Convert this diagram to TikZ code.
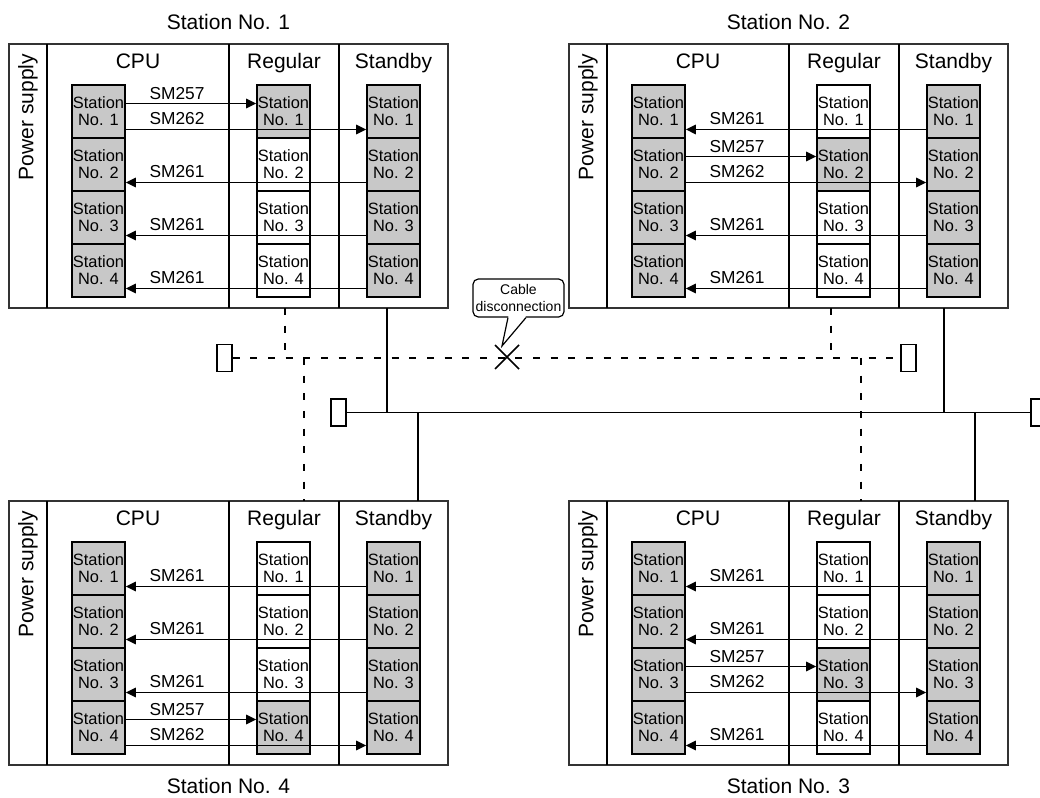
\documentclass[tikz,border=0pt]{standalone}
\usepackage{fontspec}
\setmainfont{Liberation Sans}
\usetikzlibrary{arrows.meta,calc}
\definecolor{boxgray}{RGB}{200,200,200}
\tikzset{
  modframe/.style={draw=black!80, line width=1.1pt, minimum width=329.25pt, minimum height=198pt, inner sep=0pt},
  divider/.style={line width=1.6pt},
  stbox/.style={draw, line width=1.3pt, minimum width=39.75pt, minimum height=39.75pt, inner sep=0pt, align=center, font=\fontsize{12.3}{12.75}\selectfont},
  sig/.style={line width=1.4pt, -{Triangle[length=7.5pt,width=7pt]}},
  smlabel/.style={inner sep=0pt, font=\fontsize{13}{13}\selectfont},
  header/.style={inner sep=0pt, anchor=base, font=\fontsize{15.75}{16}\selectfont},
  pslabel/.style={inner sep=0pt, rotate=90, font=\fontsize{15.75}{16}\selectfont},
  bus/.style={line width=1.3pt},
  dashbus/.style={line width=1.3pt, dash pattern=on 5.25pt off 8pt},
  term/.style={draw, fill=white, line width=1.1pt, minimum width=11.25pt, minimum height=20.25pt, inner sep=0pt},
  xmark/.style={line width=1.2pt},
  callbox/.style={draw, fill=white, line width=0.9pt, rounded corners=4pt, align=center, inner sep=0pt, minimum width=68.25pt, minimum height=28.5pt, font=\fontsize{10.5}{12.75}\selectfont},
}
\newcommand{\stmodule}[4]{%
\begin{scope}[shift={(#1,#2)}]
  \node[modframe] (#3frame) at (228.5,176) {};
  \draw[divider] (47,44) -- (47,308);
  \draw[divider] (229,44) -- (229,308);
  \draw[divider] (339,44) -- (339,308);
  \node[pslabel] (#3ps) at (28,117) {Power supply};
  \node[header] (#3hcpu) at (138,68.5) {CPU};
  \node[header] (#3hreg) at (284,68.5) {Regular};
  \node[header] (#3hstb) at (393.5,68.5) {Standby};
  \foreach \r in {1,2,3,4} {
    \pgfmathsetmacro{\cy}{85+53*(\r-1)+26.5}
    \ifnum\r=#4\relax\def\regcol{boxgray}\else\def\regcol{white}\fi
    \node[stbox, fill=boxgray] (#3cpu\r) at (98.5,\cy) {Station\\No. \r};
    \node[stbox, fill=\regcol] (#3reg\r) at (283.5,\cy) {Station\\No. \r};
    \node[stbox, fill=boxgray] (#3stb\r) at (393.5,\cy) {Station\\No. \r};
  }
  \foreach \r in {1,2,3,4} {
    \pgfmathsetmacro{\cy}{85+53*(\r-1)+26.5}
    \ifnum\r=#4\relax
      \draw[sig] ($(#3cpu\r.east)+(0,-8)$) -- ($(#3reg\r.west)+(0,-8)$);
      \draw[sig] ($(#3cpu\r.east)+(0,18)$) -- ($(#3stb\r.west)+(0,18)$);
      \node[smlabel] (#3lu\r) at (177,{\cy-17.5}) {SM257};
      \node[smlabel] (#3ld\r) at (177,{\cy+7.5}) {SM262};
    \else
      \draw[sig] ($(#3stb\r.west)+(0,18)$) -- ($(#3cpu\r.east)+(0,18)$);
      \node[smlabel] (#3ld\r) at (177,{\cy+7.5}) {SM261};
    \fi
  }
\end{scope}}
\begin{document}
\begin{tikzpicture}[x=0.75pt, y=-0.75pt]
  \clip (0,0) rectangle (1040,798);
  \fill[white] (0,0) rectangle (1040,798);
  % titles
  \node[header] (t1) at (228.5,29.2) {Station No. 1};
  \node[header] (t2) at (788.5,29.2) {Station No. 2};
  \node[header] (t4) at (228.5,793.5) {Station No. 4};
  \node[header] (t3) at (788.5,793.5) {Station No. 3};
  % modules
  \stmodule{0}{0}{A}{1}
  \stmodule{560}{0}{B}{2}
  \stmodule{0}{457}{D}{4}
  \stmodule{560}{457}{C}{3}
  % terminators
  \node[term] (tdl) at (224.5,358) {};
  \node[term] (tdr) at (908.5,358) {};
  \node[term] (tbl) at (338.5,412.5) {};
  \node[term] (tbr) at (1038.5,412.5) {};
  % named points of the network
  \coordinate (aD) at (285,308);  \coordinate (aDe) at (285,358);
  \coordinate (bD) at (831,308);  \coordinate (bDe) at (831,358);
  \coordinate (dD) at (304,501);  \coordinate (dDe) at (304,358);
  \coordinate (cD) at (861,501);  \coordinate (cDe) at (861,358);
  \coordinate (aS) at (387,308);  \coordinate (aSe) at (387,412.5);
  \coordinate (bS) at (944,308);  \coordinate (bSe) at (944,412.5);
  \coordinate (dS) at (418,501);  \coordinate (dSe) at (418,412.5);
  \coordinate (cS) at (975,501);  \coordinate (cSe) at (975,412.5);
  % dashed (broken) line
  \draw[dashbus] (tdl) -- (tdr);
  \draw[dashbus] (aD) -- (aDe);
  \draw[dashbus] (bD) -- (bDe);
  \draw[dashbus] (dDe) -- (dD);
  \draw[dashbus] (cDe) -- (cD);
  % solid line
  \draw[bus] (tbl) -- (tbr);
  \draw[bus] (aS) -- (aSe);
  \draw[bus] (bS) -- (bSe);
  \draw[bus] (dSe) -- (dS);
  \draw[bus] (cSe) -- (cS);
  % cable disconnection
  \coordinate (xc) at (507,357);
  \draw[xmark] ($(xc)+(-12,-12)$) -- ($(xc)+(12,12)$);
  \draw[xmark] ($(xc)+(-12,12)$) -- ($(xc)+(12,-12)$);
  \coordinate (cdtip) at (502,346);
  \node[callbox] (cable) at (518.5,298) {Cable\\disconnection};
  \fill[white] ($(cable.south)+(-10,-1.6)$) -- ($(cable.south)+(7,-1.6)$) -- ($(cable.south)+(7.5,0.2)$) -- (cdtip) -- ($(cable.south)+(-10.5,0.2)$) -- cycle;
  \draw[line width=0.9pt] ($(cable.south)+(-10.5,0)$) -- (cdtip) -- ($(cable.south)+(7.5,0)$);
\end{tikzpicture}
\end{document}
